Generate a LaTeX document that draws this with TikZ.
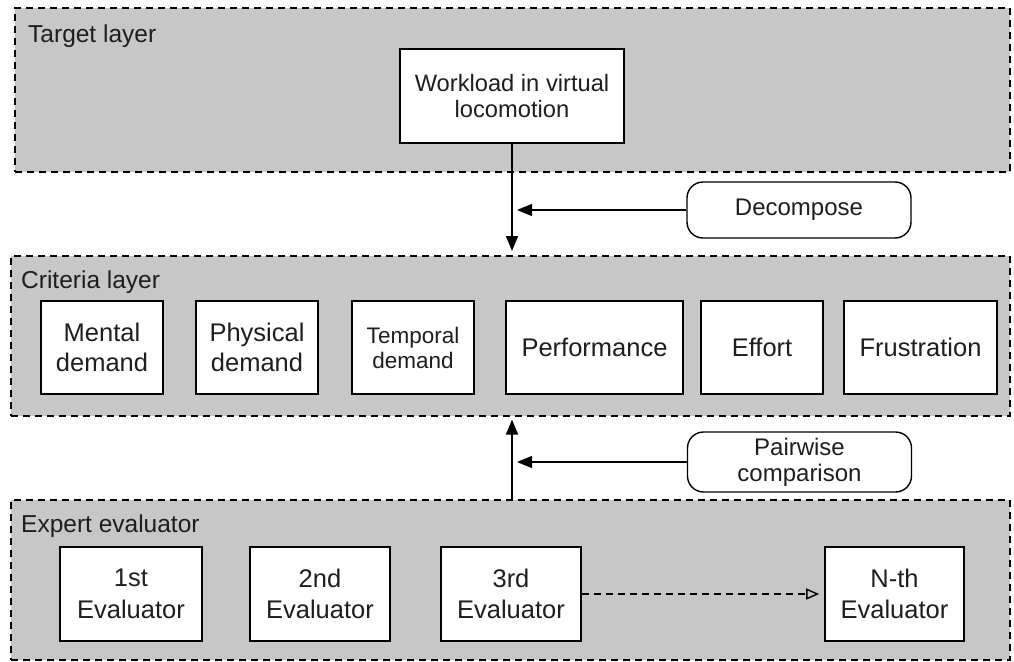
\documentclass[tikz,border=0pt]{standalone}
\usepackage{fontspec}
\setmainfont{Liberation Sans}
\usetikzlibrary{arrows.meta}

\definecolor{layergray}{RGB}{199,199,199}
\definecolor{inkgray}{RGB}{30,30,30}

\tikzstyle{layerbox} = [draw=black, fill=layergray, line width=1.6pt, dash pattern=on 7pt off 5pt, rectangle, anchor=north west, inner sep=0pt]
\tikzstyle{layertitle} = [anchor=base west, inner sep=0pt, text=inkgray, font=\fontsize{24.5}{29}\selectfont]
\tikzstyle{itembox} = [draw=black, fill=white, line width=1.6pt, rectangle, inner sep=0pt, minimum height=93pt, align=center, text=inkgray, font=\fontsize{25.5}{30}\selectfont]
\tikzstyle{notebox} = [draw=black, fill=white, line width=1.4pt, rectangle, rounded corners=16pt, inner sep=0pt, minimum width=224pt, align=center, text=inkgray, font=\fontsize{24}{26}\selectfont]
\tikzstyle{flow} = [line width=1.4pt, -{Triangle[length=15pt,width=12pt]}]

\begin{document}
\begin{tikzpicture}[x=1pt, y=-1pt]
	\useasboundingbox (0,0) rectangle (1014,661);

	% layers
	\node [layerbox, minimum width=995pt, minimum height=164pt] (target) at (14,7) {};
	\node [layerbox, minimum width=999pt, minimum height=160pt] (criteria) at (10,255) {};
	\node [layerbox, minimum width=999pt, minimum height=160pt] (expert) at (10,499) {};

	\node [layertitle] (targettitle) at (28,43) {Target layer};
	\node [layertitle] (criteriatitle) at (21,288) {Criteria layer};
	\node [layertitle] (experttitle) at (21,532) {Expert evaluator};

	% target
	\node [itembox, minimum width=224pt, minimum height=94pt, font=\fontsize{23.7}{26.5}\selectfont] (workload) at (512,96) {Workload in virtual\\locomotion};

	% criteria
	\node [itembox, minimum width=122pt] (mental) at (102,347.5) {Mental\\demand};
	\node [itembox, minimum width=122pt] (physical) at (257,347.5) {Physical\\demand};
	\node [itembox, minimum width=122pt, font=\fontsize{22.5}{25}\selectfont] (temporal) at (413,347.5) {Temporal\\demand};
	\node [itembox, minimum width=177pt] (performance) at (594.5,347.5) {Performance};
	\node [itembox, minimum width=122pt] (effort) at (762,347.5) {Effort};
	\node [itembox, minimum width=153pt] (frustration) at (920.5,347.5) {Frustration};

	% evaluators
	\node [itembox, minimum width=142pt, minimum height=94pt, font=\fontsize{25.5}{31.5}\selectfont] (eval1) at (131,594) {1st\\Evaluator};
	\node [itembox, minimum width=140pt, minimum height=94pt, font=\fontsize{25.5}{31.5}\selectfont] (eval2) at (320,594) {2nd\\Evaluator};
	\node [itembox, minimum width=140pt, minimum height=94pt, font=\fontsize{25.5}{31.5}\selectfont] (eval3) at (511,594) {3rd\\Evaluator};
	\node [itembox, minimum width=139pt, minimum height=94pt, font=\fontsize{25.5}{31.5}\selectfont] (evaln) at (894.5,594) {N-th\\Evaluator};

	% operations
	\node [notebox, minimum height=56pt] (decompose) at (799,210) {Decompose};
	\node [notebox, minimum height=60pt] (pairwise) at (799.5,462) {Pairwise\\comparison};

	\draw [flow, shorten >=4pt] (workload.south) -- (workload.south |- criteria.north);
	\draw [flow, shorten >=5pt] (decompose.west) -- (decompose.west -| workload.south);
	\draw [flow, shorten >=3pt] (expert.north -| workload.south) -- (criteria.south -| workload.south);
	\draw [flow, shorten >=5pt] (pairwise.west) -- (pairwise.west -| workload.south);
	\draw [line width=1.4pt, dash pattern=on 7pt off 5pt, -{Triangle[open,length=13pt,width=11pt]}, shorten >=5pt] (eval3.east) -- (evaln.west);
\end{tikzpicture}
\end{document}
